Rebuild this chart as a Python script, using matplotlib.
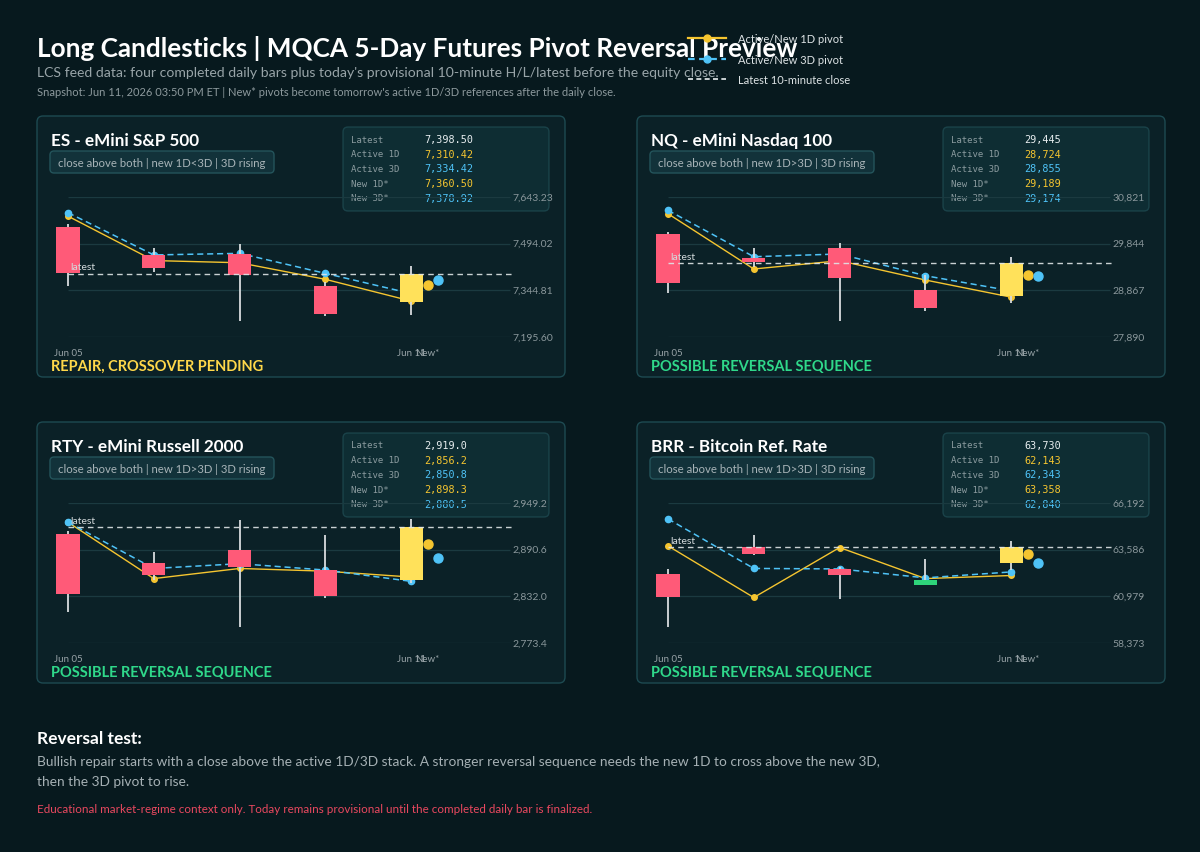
import matplotlib
matplotlib.use("Agg")
import matplotlib.pyplot as plt
from matplotlib.patches import FancyBboxPatch

# ─── Data ────────────────────────────────────────────────────────────────────
ES_OPEN  = [7548.0, 7458.0, 7461.0, 7359.0, 7307.0]
ES_HIGH  = [7556.0, 7479.0, 7493.0, 7372.0, 7424.0]
ES_LOW   = [7360.0, 7404.0, 7248.0, 7264.0, 7266.0]
ES_CLOSE = [7401.0, 7417.0, 7394.0, 7268.0, 7398.50]
ES_P1D   = [7582.0, 7440.0, 7433.0, 7380.0, 7310.42]
ES_P3D   = [7593.0, 7458.0, 7463.0, 7399.0, 7334.42]
ES_NEW   = [7360.50, 7378.92]
ES_TICKS = [7195.60, 7344.81, 7494.02, 7643.23]

NQ_OPEN  = [30046, 29544, 29760, 28874, 28755]
NQ_HIGH  = [30095, 29760, 29864, 29188, 29571]
NQ_LOW   = [28805, 29362, 28231, 28441, 28596]
NQ_CLOSE = [29027, 29460, 29132, 28504, 29445]
NQ_P1D   = [30471, 29314, 29487, 29083, 28724]
NQ_P3D   = [30542, 29571, 29628, 29173, 28855]
NQ_NEW   = [29189, 29174]
NQ_TICKS = [27890, 28867, 29844, 30821]

RTY_OPEN  = [2910.2, 2873.4, 2890.3, 2864.5, 2852.2]
RTY_HIGH  = [2913.6, 2887.7, 2928.0, 2909.3, 2929.3]
RTY_LOW   = [2812.8, 2853.0, 2793.8, 2829.8, 2848.8]
RTY_CLOSE = [2834.9, 2859.4, 2868.7, 2832.7, 2919.0]
RTY_P1D   = [2925.0, 2854.3, 2867.0, 2863.6, 2856.2]
RTY_P3D   = [2925.0, 2867.0, 2873.0, 2865.0, 2850.8]
RTY_NEW   = [2898.3, 2880.5]
RTY_TICKS = [2773.4, 2832.0, 2890.6, 2949.2]

BRR_OPEN  = [62237, 63740, 62480, 61633, 62819]
BRR_HIGH  = [62480, 64418, 62610, 63045, 64045]
BRR_LOW   = [59277, 63288, 60824, 61593, 62441]
BRR_CLOSE = [60915, 63367, 62197, 61915, 63730]
BRR_P1D   = [63797, 60915, 63706, 61971, 62143]
BRR_P3D   = [65305, 62537, 62510, 62011, 62343]
BRR_NEW   = [63358, 62840]
BRR_TICKS = [58373, 60979, 63586, 66192]

TITLES   = ["ES - eMini S&P 500", "NQ - eMini Nasdaq 100",
            "RTY - eMini Russell 2000", "BRR - Bitcoin Ref. Rate"]
BADGES   = ["close above both | new 1D<3D | 3D rising",
            "close above both | new 1D>3D | 3D rising",
            "close above both | new 1D>3D | 3D rising",
            "close above both | new 1D>3D | 3D rising"]
STATUSES = ["REPAIR, CROSSOVER PENDING", "POSSIBLE REVERSAL SEQUENCE",
            "POSSIBLE REVERSAL SEQUENCE", "POSSIBLE REVERSAL SEQUENCE"]
FORMATS  = ["{:,.2f}", "{:,.0f}", "{:,.1f}", "{:,.0f}"]
X_LABELS = ["Jun 05", "Jun 11", "New*"]
TABLE_ROWS = ["Latest", "Active 1D", "Active 3D", "New 1D*", "New 3D*"]

# ─── Style ───────────────────────────────────────────────────────────────────
BG       = "#07191e"
PANEL_BG = "#0b2127"
PANEL_EC = "#1d4a51"
GRID     = "#1b3a40"
RED      = "#ff5a78"
GREEN    = "#2ed47a"
TODAY    = "#ffe15a"
C1D      = "#f5c530"
C3D      = "#4fc3f7"
WICK     = "#d8dcde"
ST_YEL   = "#ffd84a"
ST_GRN   = "#2fd88a"
MONO     = "DejaVu Sans Mono"

plt.rcParams["font.family"] = ["Lato", "DejaVu Sans"]

W, H = 1200, 853
fig = plt.figure(figsize=(12, 8.53), dpi=100)
fig.patch.set_facecolor(BG)
bg = fig.add_axes([0, 0, 1, 1])
bg.set_xlim(0, W); bg.set_ylim(H, 0); bg.axis("off")

PX = 85.8  # pixels per candle step


def rbox(x, y, w, h, fc, ec, alpha=1.0, r=5, z=1):
    bg.add_patch(FancyBboxPatch((x, y), w, h, boxstyle=f"round,pad=0,rounding_size={r}",
                                fc=fc, ec=ec, lw=1, alpha=alpha, zorder=z))


def draw_panel(L, T, idx, o, hi, lo, c, p1d, p3d, new, ticks):
    fmt = FORMATS[idx]
    rbox(L, T, 528, 261, PANEL_BG, PANEL_EC, r=6)
    bg.text(L + 14, T + 24, TITLES[idx], color="white", fontsize=12.3,
            fontweight="bold", va="center")
    rbox(L + 13, T + 35, 224, 22, "#12323a", "#24545b", r=4, z=2)
    bg.text(L + 21, T + 46.5, BADGES[idx], color="#a8b4b8", fontsize=8.2, va="center", zorder=3)
    scol = ST_YEL if idx == 0 else ST_GRN
    bg.text(L + 14, T + 250, STATUSES[idx], color=scol, fontsize=10.5,
            fontweight="bold", va="center")

    # stats table
    rbox(L + 306, T + 11, 206, 84, "#11363c", "#23545b", alpha=0.6, r=5, z=2)
    vals = [c[-1], p1d[-1], p3d[-1], new[0], new[1]]
    vcols = ["#e8eef0", C1D, C3D, C1D, C3D]
    for k, (lab, v, vc) in enumerate(zip(TABLE_ROWS, vals, vcols)):
        yy = T + 23 + k * 14.7
        bg.text(L + 314, yy, lab, family=MONO, fontsize=6.5, color="#8c9ca0", va="center", zorder=3)
        bg.text(L + 387, yy, fmt.format(v), family=MONO, fontsize=7.3, color=vc, va="center", zorder=3)

    # chart axes: x=0 at pixel L+31, gridlines from T+81 to T+221
    ax = fig.add_axes([(L + 10) / W, 1 - (T + 221) / H, 510 / W, 140 / H])
    ax.set_xlim(-21 / PX, 489 / PX)
    ax.set_ylim(ticks[0], ticks[-1])
    ax.axis("off")
    ax.patch.set_alpha(0)
    ax.hlines(ticks, 0, 5.15, color=GRID, lw=0.9, zorder=1)
    for t in ticks:
        ax.text(5.18, t, fmt.format(t), color="#8a979b", fontsize=7.5, va="center", ha="left")

    xs = list(range(5))
    ax.plot(xs, p1d, color=C1D, lw=1.0, marker="o", ms=4, zorder=2)
    ax.plot(xs, p3d, color=C3D, lw=1.1, ls=(0, (4, 2.5)), marker="o", ms=4.5, zorder=2)

    cols = []
    for i in xs:
        if i == 4:
            cols.append(TODAY)
        else:
            cols.append(GREEN if c[i] > o[i] else RED)
    ax.vlines(xs, lo, hi, color=WICK, lw=1.3, zorder=2.5)
    ax.bar(xs, [abs(ci - oi) for ci, oi in zip(c, o)], bottom=[min(ci, oi) for ci, oi in zip(c, o)],
           width=0.27, color=cols, zorder=3)

    ax.plot([4.19], [new[0]], "o", ms=6.5, color=C1D, zorder=5)
    ax.plot([4.31], [new[1]], "o", ms=6.5, color=C3D, zorder=5)

    ax.hlines(c[-1], 0, 5.17, colors="#dfe5e7", linestyles=(0, (4, 3)), lw=1.0, zorder=4, alpha=0.9)
    ax.annotate("latest", (0.03, c[-1]), xytext=(0, 1.5), textcoords="offset points",
                color="#d4dbdd", fontsize=7.5, va="bottom", ha="left", zorder=6)

    xt = ax.get_xaxis_transform()
    for xv, lab in zip([0, 4, 4.19], X_LABELS):
        ax.text(xv, -16 / 140, lab, transform=xt, color="#98a3a7", fontsize=7,
                ha="center", va="center")


draw_panel(37, 117, 0, ES_OPEN, ES_HIGH, ES_LOW, ES_CLOSE, ES_P1D, ES_P3D, ES_NEW, ES_TICKS)
draw_panel(637, 117, 1, NQ_OPEN, NQ_HIGH, NQ_LOW, NQ_CLOSE, NQ_P1D, NQ_P3D, NQ_NEW, NQ_TICKS)
draw_panel(37, 423, 2, RTY_OPEN, RTY_HIGH, RTY_LOW, RTY_CLOSE, RTY_P1D, RTY_P3D, RTY_NEW, RTY_TICKS)
draw_panel(637, 423, 3, BRR_OPEN, BRR_HIGH, BRR_LOW, BRR_CLOSE, BRR_P1D, BRR_P3D, BRR_NEW, BRR_TICKS)

# ─── Header ──────────────────────────────────────────────────────────────────
bg.text(37, 48, "Long Candlesticks | MQCA 5-Day Futures Pivot Reversal Preview",
        color="white", fontsize=18.8, fontweight="bold", va="center", zorder=3)
bg.text(37, 73, "LCS feed data: four completed daily bars plus today's provisional "
        "10-minute H/L/latest before the equity close.", color="#98a4a8", fontsize=10.1, va="center")
bg.text(37, 92, "Snapshot: Jun 11, 2026 03:50 PM ET | New* pivots become tomorrow's active "
        "1D/3D references after the daily close.", color="#8d999d", fontsize=8, va="center")

# legend (drawn over the title, as in the source)
bg.plot([688, 726], [39, 39], color=C1D, lw=1.6, zorder=5)
bg.plot([707], [39], "o", color=C1D, ms=5, zorder=5)
bg.plot([688, 726], [60, 60], color=C3D, lw=1.6, ls=(0, (3, 2)), zorder=5)
bg.plot([707], [60], "o", color=C3D, ms=5, zorder=5)
bg.plot([688, 726], [80, 80], color="#e8eef0", lw=1.2, ls=(0, (3, 2)), zorder=5)
for yy, lab in zip([39, 60, 80], ["Active/New 1D pivot", "Active/New 3D pivot",
                                  "Latest 10-minute close"]):
    bg.text(738, yy, lab, color="#dde3e5", fontsize=8, va="center", zorder=6)

# ─── Footer ──────────────────────────────────────────────────────────────────
bg.text(37, 739, "Reversal test:", color="white", fontsize=12.5, fontweight="bold", va="center")
bg.text(37, 762, "Bullish repair starts with a close above the active 1D/3D stack. A stronger "
        "reversal sequence needs the new 1D to cross above the new 3D,", color="#a5b0b4",
        fontsize=9.95, va="center")
bg.text(37, 782, "then the 3D pivot to rise.", color="#a5b0b4", fontsize=9.95, va="center")
bg.text(37, 810, "Educational market-regime context only. Today remains provisional until the "
        "completed daily bar is finalized.", color="#e9485f", fontsize=8.33, va="center")

fig.savefig("out.png", dpi=100, facecolor=fig.get_facecolor())
